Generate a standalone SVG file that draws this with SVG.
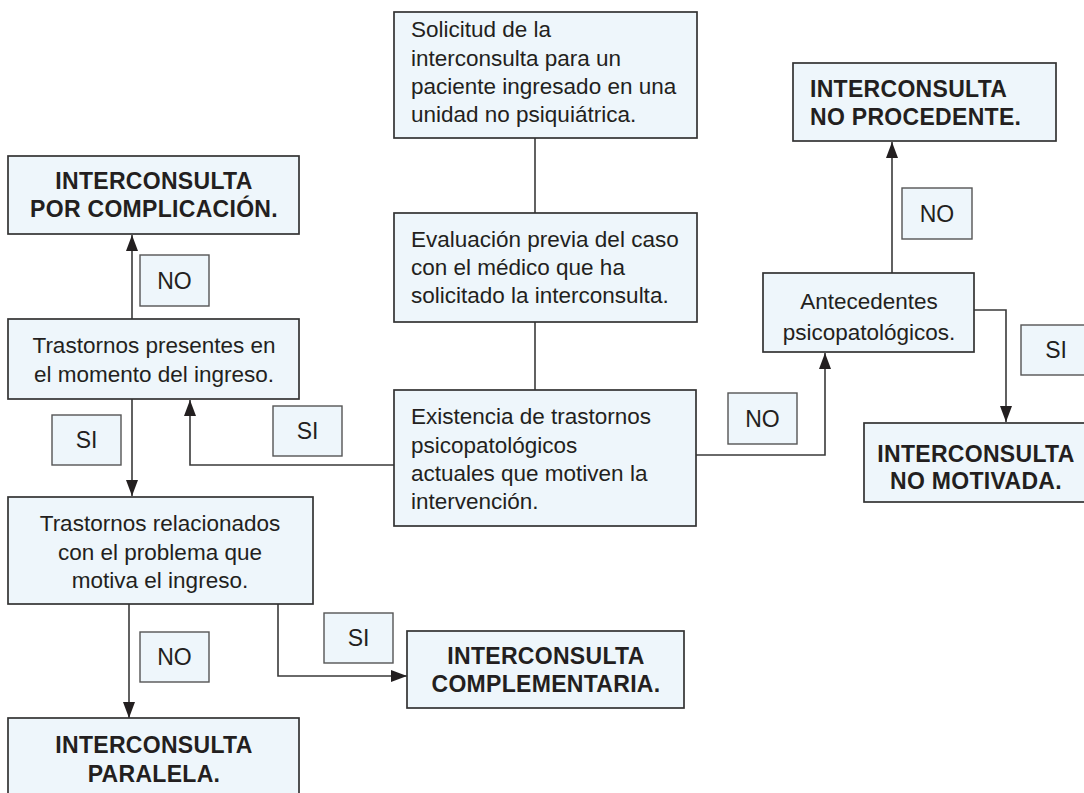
<svg xmlns="http://www.w3.org/2000/svg" width="1084" height="793" viewBox="0 0 1084 793">
<style>
.box{fill:#eef6fb;stroke:#333333;stroke-width:1.7}
.lbl{fill:#eef6fb;stroke:#555;stroke-width:1.4}
.t{font-family:"Liberation Sans",Arial,sans-serif;font-size:22.5px;fill:#231f20}
.n{font-family:"Liberation Sans",Arial,sans-serif;font-size:23px;fill:#231f20;text-anchor:middle}
.b{font-family:"Liberation Sans",Arial,sans-serif;font-size:23px;font-weight:bold;fill:#231f20;letter-spacing:0.3px}
.c{text-anchor:middle}
.ln{fill:none;stroke:#3a3a3a;stroke-width:1.6}
</style>
<defs>
<marker id="ah" markerWidth="16" markerHeight="12" refX="16" refY="6" orient="auto" markerUnits="userSpaceOnUse" viewBox="0 0 16 12">
<path d="M0,0 L16,6 L0,12 z" fill="#231f20"/>
</marker>
</defs>
<rect width="1084" height="793" fill="#ffffff"/>
<g id="connectors">
<path class="ln" d="M535,138 V213"/>
<path class="ln" d="M535,322 V390"/>
<path class="ln" d="M394,465 H190 V400" marker-end="url(#ah)"/>
<path class="ln" d="M132,319 V235" marker-end="url(#ah)"/>
<path class="ln" d="M132,399 V496" marker-end="url(#ah)"/>
<path class="ln" d="M129,604 V718" marker-end="url(#ah)"/>
<path class="ln" d="M278,604 V676 H407" marker-end="url(#ah)"/>
<path class="ln" d="M696,455 H825 V353" marker-end="url(#ah)"/>
<path class="ln" d="M892,273 V142" marker-end="url(#ah)"/>
<path class="ln" d="M974,310 H1006 V422" marker-end="url(#ah)"/>
</g>
<g id="labels">
<rect class="lbl" x="140" y="255" width="69" height="51"/><text class="n" x="174.5" y="289">NO</text>
<rect class="lbl" x="52" y="415" width="69" height="50"/><text class="n" x="86.5" y="448">SI</text>
<rect class="lbl" x="273" y="406" width="69" height="50"/><text class="n" x="307.5" y="439">SI</text>
<rect class="lbl" x="140" y="632" width="69" height="50"/><text class="n" x="174.5" y="665">NO</text>
<rect class="lbl" x="324" y="613" width="69" height="50"/><text class="n" x="358.5" y="646">SI</text>
<rect class="lbl" x="728" y="393" width="69" height="51"/><text class="n" x="762.5" y="427">NO</text>
<rect class="lbl" x="902" y="188" width="70" height="51"/><text class="n" x="937" y="222">NO</text>
<rect class="lbl" x="1021" y="325" width="70" height="50"/><text class="n" x="1056" y="358">SI</text>
</g>
<g id="solicitud">
<rect class="box" x="394" y="12" width="303" height="126"/>
<text class="t" x="411" y="37">Solicitud de la</text>
<text class="t" x="411" y="66">interconsulta para un</text>
<text class="t" x="411" y="94">paciente ingresado en una</text>
<text class="t" x="411" y="122">unidad no psiquiátrica.</text>
</g>
<g id="evaluacion">
<rect class="box" x="394" y="213" width="303" height="109"/>
<text class="t" x="411" y="247">Evaluación previa del caso</text>
<text class="t" x="411" y="275">con el médico que ha</text>
<text class="t" x="411" y="303">solicitado la interconsulta.</text>
</g>
<g id="existencia">
<rect class="box" x="394" y="390" width="302" height="136"/>
<text class="t" x="411" y="424">Existencia de trastornos</text>
<text class="t" x="411" y="453">psicopatológicos</text>
<text class="t" x="411" y="481">actuales que motiven la</text>
<text class="t" x="411" y="509">intervención.</text>
</g>
<g id="complicacion">
<rect class="box" x="8" y="156" width="291" height="78"/>
<text class="b c" x="154" y="189">INTERCONSULTA</text>
<text class="b c" x="154" y="217">POR COMPLICACIÓN.</text>
</g>
<g id="presentes">
<rect class="box" x="8" y="319" width="291" height="80"/>
<text class="t c" x="154" y="353">Trastornos presentes en</text>
<text class="t c" x="154" y="382">el momento del ingreso.</text>
</g>
<g id="relacionados">
<rect class="box" x="8" y="497" width="305" height="107"/>
<text class="t c" x="160" y="531">Trastornos relacionados</text>
<text class="t c" x="160" y="560">con el problema que</text>
<text class="t c" x="160" y="588">motiva el ingreso.</text>
</g>
<g id="paralela">
<rect class="box" x="8" y="718" width="291" height="90"/>
<text class="b c" x="154" y="753">INTERCONSULTA</text>
<text class="b c" x="154" y="782">PARALELA.</text>
</g>
<g id="complementaria">
<rect class="box" x="407" y="631" width="277" height="77"/>
<text class="b c" x="546" y="664">INTERCONSULTA</text>
<text class="b c" x="546" y="692">COMPLEMENTARIA.</text>
</g>
<g id="antecedentes">
<rect class="box" x="763" y="273" width="211" height="79"/>
<text class="t c" x="869" y="309">Antecedentes</text>
<text class="t c" x="869" y="340">psicopatológicos.</text>
</g>
<g id="procedente">
<rect class="box" x="793" y="63" width="263" height="78"/>
<text class="b" x="810" y="97">INTERCONSULTA</text>
<text class="b" x="810" y="125">NO PROCEDENTE.</text>
</g>
<g id="motivada">
<rect class="box" x="864" y="423" width="226" height="79"/>
<text class="b c" x="976" y="462">INTERCONSULTA</text>
<text class="b c" x="976" y="489">NO MOTIVADA.</text>
</g>
</svg>
